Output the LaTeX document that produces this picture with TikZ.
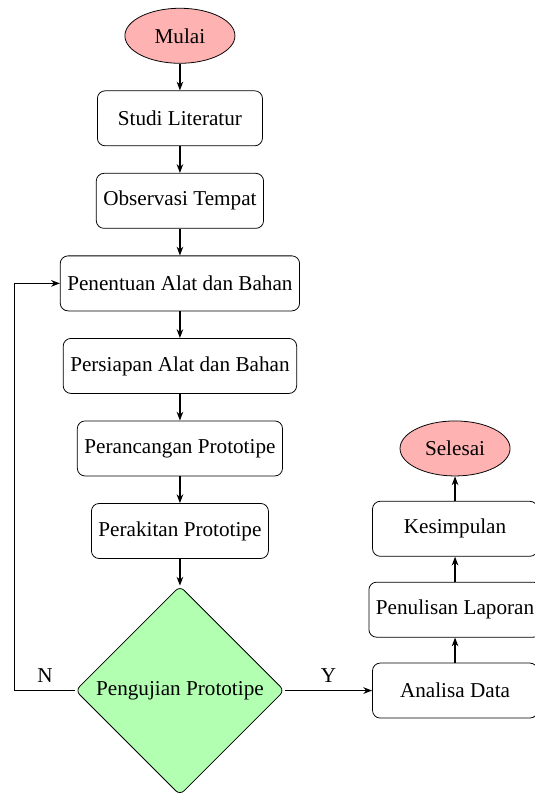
\documentclass[tikz,border=0pt,11pt]{standalone}
\usepackage{fontspec}
\setmainfont{Liberation Serif}
\usetikzlibrary{arrows.meta,positioning,shapes.geometric}

\begin{document}
\begin{tikzpicture}[
    startstop/.style={draw,ellipse,fill=red!30,minimum width=2cm,minimum height=1cm},
    process/.style={draw,rectangle,rounded corners=4pt,minimum width=3cm,minimum height=1cm,align=center},
    decision/.style={draw,diamond,rounded corners=3pt,fill=green!30,minimum width=3.8cm,minimum height=3.8cm,inner sep=0pt,align=center},
    arr/.style={-{Stealth[length=1.6mm]},semithick}
]
\useasboundingbox (-3.27,0.65) rectangle (6.45,-13.78);

\node[startstop] (mulai) at (0,0) {Mulai};
\node[process] (studi) at (0,-1.5) {Studi Literatur};
\node[process] (observasi) at (0,-3) {Observasi Tempat};
\node[process] (tentu) at (0,-4.5) {Penentuan Alat dan Bahan};
\node[process] (siap) at (0,-6) {Persiapan Alat dan Bahan};
\node[process] (rancang) at (0,-7.5) {Perancangan Prototipe};
\node[process] (rakit) at (0,-9) {Perakitan Prototipe};
\node[decision] (uji) at (0,-11.9) {Pengujian Prototipe};

\node[process] (analisa) at (5,-11.9) {Analisa Data};
\node[process] (laporan) at (5,-10.43) {Penulisan Laporan};
\node[process] (simpul) at (5,-8.96) {Kesimpulan};
\node[startstop] (selesai) at (5,-7.5) {Selesai};

\coordinate (balik) at (-3,-11.9);

\draw[arr] (mulai) -- (studi);
\draw[arr] (studi) -- (observasi);
\draw[arr] (observasi) -- (tentu);
\draw[arr] (tentu) -- (siap);
\draw[arr] (siap) -- (rancang);
\draw[arr] (rancang) -- (rakit);
\draw[arr] (rakit) -- (uji);
\draw[arr] (uji.east) -- node[above]{Y} (analisa.west);
\draw[arr] (uji.west) -- node[above]{N} (balik) |- (tentu.west);
\draw[arr] (analisa) -- (laporan);
\draw[arr] (laporan) -- (simpul);
\draw[arr] (simpul) -- (selesai);
\end{tikzpicture}
\end{document}
